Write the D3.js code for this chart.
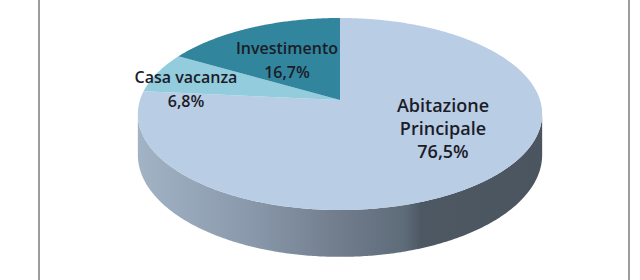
<!DOCTYPE html>
<html>
<head>
<meta charset="utf-8">
<script src="https://cdn.jsdelivr.net/npm/d3@7"></script>
<style>
  html, body { margin: 0; padding: 0; background: #fff; }
  svg { display: block; }
</style>
</head>
<body>
<div id="chart"></div>
<script>
const width = 640;
const height = 280;

// data
const categories = ["Abitazione Principale", "Casa vacanza", "Investimento"];
const values = [76.5, 6.8, 16.7];
const valueLabels = ["76,5%", "6,8%", "16,7%"];
const colors = ["#b9cde5", "#93cddd", "#31859c"];

const svg = d3.select("#chart")
  .append("svg")
  .attr("width", width)
  .attr("height", height);

// frame lines left/right
svg.append("line").attr("x1", 39).attr("x2", 39).attr("y1", 0).attr("y2", height)
  .attr("stroke", "#9c9c9c").attr("stroke-width", 2);
svg.append("line").attr("x1", 629).attr("x2", 629).attr("y1", 0).attr("y2", height)
  .attr("stroke", "#9c9c9c").attr("stroke-width", 2);

// simple perspective for the tilted pie
const cx = 340, cy = 100;   // projected centre of the pie
const rx = 200, ry = 94;
const k = -0.1458;          // perspective factor (near side bigger)
const depth = 40;

function proj(a, r = 1, h = 0) {
  const u = Math.sin(a) * r;
  const v = -Math.cos(a) * r;
  const s = 1 / (1 + k * v);
  return [cx + rx * u * s, cy + ry * v * s + h * s];
}

const pie = d3.pie().sort(null).value(d => d);
const arcs = pie(values);

function arcPoints(a0, a1, h = 0) {
  const n = Math.max(2, Math.ceil(Math.abs(a1 - a0) / 0.01));
  return d3.range(n + 1).map(i => proj(a0 + (a1 - a0) * i / n, 1, h));
}

// side wall (front half, between the outline tangent points)
const tA = Math.acos(k);              // right tangent
const tB = 2 * Math.PI - Math.acos(k); // left tangent

const defs = svg.append("defs");
const grad = defs.append("linearGradient")
  .attr("id", "side-grad")
  .attr("gradientUnits", "userSpaceOnUse")
  .attr("x1", cx - rx * 1.01).attr("x2", cx + rx * 1.01)
  .attr("y1", 0).attr("y2", 0);
[[0, "#a3b3c6"], [0.28, "#8999ab"], [0.48, "#737f8f"], [0.66, "#5e6b79"],
 [0.7, "#4d5863"], [1, "#4b555f"]].forEach(([o, c]) => {
  grad.append("stop").attr("offset", o).attr("stop-color", c);
});

const line = d3.line();
const sideTop = arcPoints(tA, tB, 0);
const sideBottom = arcPoints(tB, tA, depth);
svg.append("path")
  .attr("d", line(sideTop.concat(sideBottom)) + "Z")
  .attr("fill", "url(#side-grad)");

// top surface slices
svg.append("g").selectAll("path")
  .data(arcs)
  .join("path")
  .attr("d", d => line([[cx, cy]].concat(arcPoints(d.startAngle, d.endAngle))) + "Z")
  .attr("fill", (d, i) => colors[i]);

// labels
const labelLines = categories.map((c, i) =>
  (i === 0 ? c.split(" ") : [c]).concat([valueLabels[i]]));
const labelPlace = [
  { x: 443, y: 112, size: 18 },
  { x: 186, y: 83, size: 16 },
  { x: 287, y: 54, size: 16 }
];

const labels = svg.append("g")
  .attr("font-family", "'Open Sans', sans-serif")
  .attr("font-weight", 600)
  .attr("fill", "#1b1c28")
  .attr("text-anchor", "middle");

labelLines.forEach((lines, i) => {
  const p = labelPlace[i];
  const t = labels.append("text")
    .attr("font-size", p.size)
    .attr("x", p.x).attr("y", p.y);
  lines.forEach((l, j) => {
    t.append("tspan")
      .attr("x", p.x)
      .attr("dy", j === 0 ? 0 : (i === 0 ? 23 : 24))
      .text(l);
  });
});
</script>
</body>
</html>
